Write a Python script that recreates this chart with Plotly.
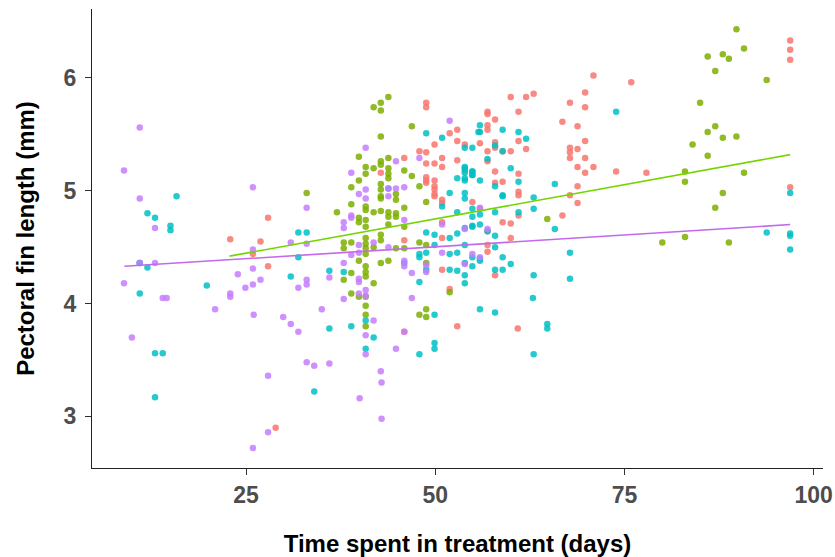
import plotly.graph_objects as go

# Fin length measurements (mm) against days spent in treatment, one list pair per treatment group
red_days = [22.9, 25.9, 27.9, 27.9, 28.9, 42.8, 45.9, 45.9, 47.9, 48.8, 48.8, 48.8, 48.8, 48.8, 48.8, 48.8,
            49.9, 49.9, 49.9, 49.9, 49.9, 49.9, 49.9, 50.9, 50.9, 50.9, 50.9, 50.9, 50.9, 50.9, 51.9, 51.9,
            52.9, 52.9, 52.9, 53.9, 53.9, 54.9, 55.9, 55.9, 56.9, 56.9, 56.9, 56.9, 56.9, 56.9, 56.9, 56.9,
            56.9, 57.9, 57.9, 57.9, 57.9, 57.9, 57.9, 58.9, 58.9, 58.9, 59.97, 59.97, 59.97, 59.97, 61.0,
            61.0, 61.0, 61.0, 61.0, 61.0, 62.0, 62.0, 63.0, 66.8, 66.8, 67.8, 67.8, 67.8, 67.8, 67.8, 68.8,
            68.8, 68.8, 68.8, 68.8, 69.8, 69.8, 69.8, 69.8, 69.8, 70.9, 70.9, 73.9, 75.9, 77.9, 96.9, 96.9,
            96.9, 96.9, 26.9, 45.9, 52.9, 60.9]
red_len = [4.57, 4.44, 4.76, 4.33, 2.90, 5.16, 5.29, 4.56, 5.35, 5.78, 5.74, 5.34, 5.24, 5.12, 5.09, 5.07,
           4.95, 5.41, 5.24, 5.09, 5.04, 5.01, 4.97, 4.72, 5.29, 5.21, 4.92, 4.89, 4.58, 4.30, 4.13, 5.51,
           5.27, 5.54, 5.44, 5.41, 5.18, 4.90, 4.84, 5.42, 4.64, 5.70, 5.68, 5.58, 5.54, 5.35, 5.26, 4.52,
           4.46, 4.25, 5.63, 5.43, 5.38, 5.17, 5.07, 5.35, 5.08, 4.72, 5.83, 5.35, 4.71, 4.58, 5.70,
           5.44, 5.15, 4.99, 4.96, 4.78, 5.83, 5.37, 5.86, 5.61, 4.78, 5.78, 5.38, 5.34, 5.29, 4.96, 5.57,
           5.37, 5.21, 5.04, 4.89, 5.87, 5.74, 5.44, 5.29, 5.16, 6.02, 5.21, 5.17, 5.96, 5.16, 6.33, 6.25,
           6.16, 5.03, 4.55, 3.75, 3.80, 3.78]

green_days = [33.0, 37.0, 37.9, 37.9, 37.9, 38.9, 38.9, 38.9, 38.9, 38.9, 39.9, 39.9, 39.9, 39.9, 39.9,
              39.9, 40.8, 40.8, 40.8, 40.8, 40.8, 40.8, 40.8, 40.8, 40.8, 40.8, 40.8, 40.8, 40.8, 40.8,
              41.85, 41.85, 41.85, 41.85, 41.85, 42.8, 42.8, 42.8, 42.8, 42.8, 42.8, 42.8, 42.8, 42.8,
              42.8, 42.8, 42.8, 42.8, 43.8, 43.8, 43.8, 43.8, 43.8, 43.8, 43.8, 43.8, 43.8, 44.8, 44.8,
              44.8, 44.8, 44.8, 45.9, 45.9, 45.9, 45.9, 46.9, 46.9, 47.9, 47.9, 48.8, 48.8, 48.8, 64.8,
              80.0, 83.0, 83.0, 83.0, 84.0, 85.0, 86.0, 86.0, 86.0, 87.0, 87.0, 87.0, 88.0, 88.0, 88.0,
              88.8, 88.8, 89.8, 89.8, 90.8, 90.8, 93.8, 40.8, 40.8, 40.8, 47.9, 48.8, 48.8, 51.9]
green_len = [4.98, 4.81, 4.54, 4.49, 4.21, 5.03, 4.88, 4.54, 4.27, 4.09, 5.30, 5.09, 4.76, 4.72, 4.38,
             4.06, 5.21, 5.15, 4.86, 4.83, 4.74, 4.68, 4.58, 4.53, 4.49, 4.44, 4.33, 4.28, 4.24, 4.06,
             5.74, 5.20, 4.81, 4.50, 4.18, 5.78, 5.71, 5.48, 5.26, 5.23, 5.06, 5.01, 4.95, 4.93, 4.82,
             4.61, 4.56, 4.36, 5.83, 5.29, 5.20, 5.15, 5.11, 4.81, 4.77, 4.70, 4.38, 4.97, 4.92, 4.80,
             4.77, 4.49, 5.18, 4.85, 4.68, 4.49, 5.57, 5.13, 5.04, 4.54, 4.90, 4.52, 4.36, 4.75,
             4.54, 5.17, 5.08, 4.59, 5.41, 5.78, 6.19, 5.52, 5.31, 6.06, 5.57, 4.85, 6.21, 5.47, 4.98,
             6.17, 4.54, 6.43, 5.48, 6.26, 5.16, 5.98, 3.98, 3.90, 3.80, 3.90, 3.95, 3.88, 4.10]

cyan_days = [10.94, 11.96, 12.96, 15.0, 15.0, 15.8, 10.94, 11.96, 10.94, 19.8, 12.96, 12.96, 13.98, 30.9,
             31.9, 31.9, 33.0, 34.0, 36.0, 37.9, 43.8, 45.9, 47.9, 47.9, 47.9, 48.8, 48.8, 48.8, 48.8,
             49.9, 49.9, 50.9, 50.9, 51.9, 51.9, 51.9, 51.9, 52.9, 52.9, 52.9, 52.9, 52.9, 53.9, 53.9,
             53.9, 53.9, 53.9, 53.9, 53.9, 53.9, 53.9, 53.9, 53.9, 53.9, 53.9, 54.9, 54.9, 54.9, 54.9,
             54.9, 54.9, 54.9, 54.9, 54.9, 54.9, 54.9, 55.7, 55.9, 55.9, 55.9, 55.9, 55.9, 55.9, 55.9,
             56.9, 56.9, 57.9, 57.9, 57.9, 57.9, 57.9, 57.9, 58.9, 58.9, 58.9, 58.9, 58.9, 58.9, 59.97,
             59.97, 61.0, 61.0, 61.0, 62.0, 63.0, 63.0, 63.0, 65.8, 65.8, 67.8, 67.8, 73.9, 93.8, 96.9,
             96.9, 96.9, 96.9, 36.0, 38.9, 40.8, 40.8, 47.9, 49.9, 49.9, 49.9, 55.9, 57.9, 63.0, 64.8,
             64.8, 62.9, 41.85]
cyan_len = [4.36, 4.32, 4.76, 4.69, 4.65, 4.95, 4.09, 4.80, 4.36, 4.16, 3.17, 3.56, 3.56, 4.24,
            4.63, 4.41, 4.63, 3.22, 4.29, 4.28, 5.02, 4.36, 4.44, 4.41, 4.19, 5.51, 4.63, 4.45, 4.30,
            4.61, 4.52, 5.47, 4.86, 4.98, 4.58, 4.44, 4.30, 5.11, 4.81, 4.62, 4.45, 4.29, 5.38, 5.20,
            5.11, 4.98, 4.93, 4.67, 4.52, 4.36, 4.25, 4.18, 5.21, 5.16, 5.09, 5.38, 5.17, 5.14, 4.77,
            4.68, 4.41, 4.84, 4.69, 4.33, 5.17, 5.14, 5.52, 5.58, 5.52, 5.09, 4.79, 4.70, 4.40, 4.38,
            5.28, 4.64, 5.04, 4.81, 4.60, 4.50, 4.30, 5.40, 5.54, 5.35, 4.96, 4.95, 4.41, 4.30, 5.20,
            4.35, 5.52, 5.08, 4.81, 5.46, 4.94, 4.84, 4.25, 5.06, 4.66, 4.45, 4.22, 5.70, 4.63, 4.98,
            4.62, 4.60, 4.48, 3.78, 3.80, 3.85, 3.60, 3.55, 3.90, 3.65, 3.60, 3.95, 3.92, 3.55, 3.82,
            3.78, 4.05, 3.70]

purple_days = [10.94, 8.86, 10.94, 12.96, 25.9, 25.9, 10.94, 12.96, 8.86, 13.98, 23.9, 25.9, 26.9, 25.9,
               24.9, 22.9, 22.9, 25.9, 27.9, 27.9, 40.0, 42.9, 42.9, 40.8, 51.9, 44.8, 47.9, 38.9, 39.9,
               40.8, 40.8, 43.8, 43.8, 44.8, 45.9, 33.0, 38.9, 38.9, 37.9, 45.9, 37.9, 30.9, 33.0, 39.9,
               39.9, 41.85, 43.8, 38.9, 37.9, 45.9, 45.9, 46.9, 36.0, 31.9, 33.0, 33.0, 39.9, 39.9, 40.8,
               39.9, 40.8, 37.9, 50.9, 50.9, 46.9, 48.8, 48.8, 55.9, 56.9, 54.9, 53.9, 53.9, 55.9, 9.9,
               14.5, 20.9, 26.0, 29.9, 30.9, 31.9, 33.0, 34.0, 35.0, 36.0, 41.85, 42.8, 44.8, 45.9, 40.8,
               40.8]
purple_len = [5.56, 5.18, 4.93, 4.67, 5.03, 4.48, 4.36, 4.36, 4.18, 4.05, 4.26, 4.31, 4.21, 4.17,
              4.14, 4.09, 4.06, 2.72, 2.86, 3.36, 3.16, 3.30, 2.98, 5.38, 5.62, 5.26, 5.29, 5.16, 4.97,
              5.01, 4.93, 5.02, 4.95, 5.02, 5.03, 4.85, 4.78, 4.76, 4.72, 4.74, 4.67, 4.54, 4.53, 4.52,
              4.45, 4.54, 4.50, 4.43, 4.36, 4.38, 4.33, 4.27, 4.23, 4.14, 4.21, 4.17, 4.22, 4.19, 4.12,
              4.09, 4.07, 4.04, 4.70, 4.45, 4.05, 4.34, 4.28, 4.85, 4.66, 4.44, 4.66, 4.35, 4.41, 3.70,
              4.05, 3.95, 3.90, 3.88, 3.82, 3.75, 3.48, 3.45, 3.95, 3.47, 3.85, 3.40, 3.60, 3.75, 3.72,
              3.55]

# Fitted linear trends (endpoints in data units)
green_fit_days = [22.8, 96.9]
green_fit_len = [4.42, 5.32]
purple_fit_days = [8.9, 96.9]
purple_fit_len = [4.33, 4.70]

x_ticks = [25, 50, 75, 100]
y_ticks = [3, 4, 5, 6]

groups = [
    (red_days, red_len, "#F8766D"),
    (green_days, green_len, "#7CAE00"),
    (cyan_days, cyan_len, "#00BFC4"),
    (purple_days, purple_len, "#C77CFF"),
]

fig = go.Figure()
for days, lengths, colour in groups:
    fig.add_trace(go.Scatter(
        x=days, y=lengths, mode="markers",
        marker=dict(size=6.5, color=colour, opacity=0.85, line=dict(width=0)),
        hoverinfo="skip", showlegend=False,
    ))

for days, lengths, colour in [(green_fit_days, green_fit_len, "#74D600"),
                              (purple_fit_days, purple_fit_len, "#C369EB")]:
    fig.add_trace(go.Scatter(
        x=days, y=lengths, mode="lines",
        line=dict(color=colour, width=1.6),
        hoverinfo="skip", showlegend=False,
    ))

tick_font = dict(family="Liberation Sans, Arial, sans-serif", size=23, color="#4D4D4D", weight="bold")
title_font = dict(family="Liberation Sans, Arial, sans-serif", size=24, color="#000000", weight="bold")

fig.update_layout(
    width=835, height=557,
    margin=dict(l=92, r=12, t=9, b=89),
    plot_bgcolor="white", paper_bgcolor="white",
    xaxis=dict(
        range=[4.63, 101.24], tickvals=x_ticks, showgrid=False, zeroline=False,
        showline=True, linecolor="#222222", linewidth=1.4, automargin=False,
        ticks="outside", ticklen=6, tickwidth=1.4, tickcolor="#333333",
        tickfont=tick_font, ticklabelstandoff=0,
        title=dict(text="Time spent in treatment (days)", font=title_font, standoff=28),
    ),
    yaxis=dict(
        range=[2.543, 6.61], tickvals=y_ticks, showgrid=False, zeroline=False,
        showline=True, linecolor="#222222", linewidth=1.4, automargin=False,
        ticks="outside", ticklen=6, tickwidth=1.4, tickcolor="#333333",
        tickfont=tick_font, ticklabelstandoff=4,
        title=dict(text="Pectoral fin length (mm)", font=title_font, standoff=22),
    ),
)

fig.write_html("out.html")
